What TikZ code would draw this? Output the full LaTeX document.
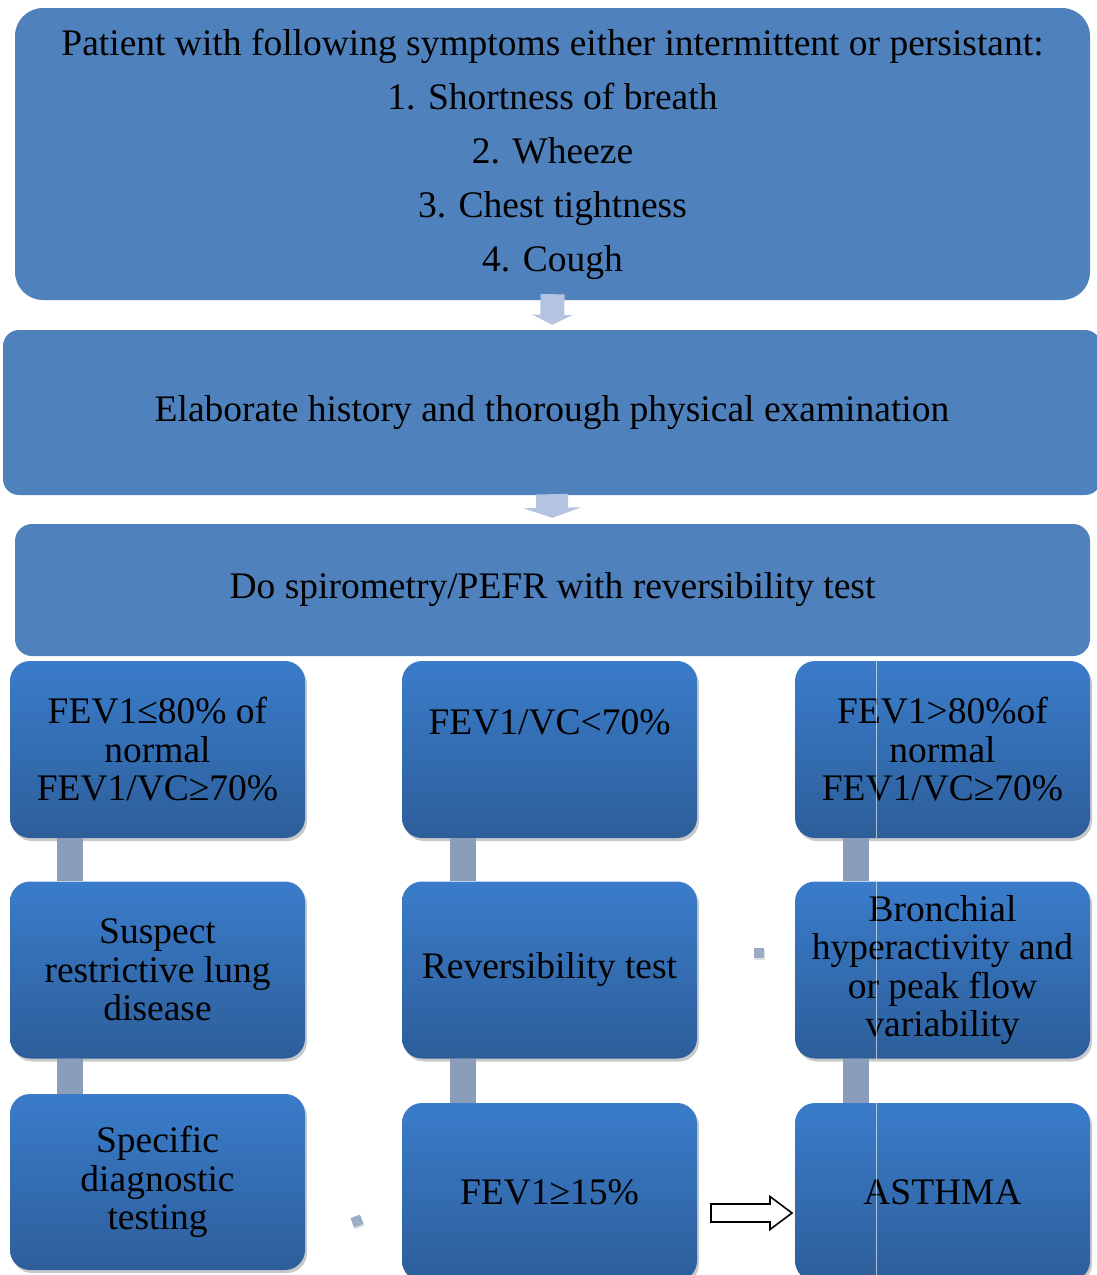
\documentclass[tikz,border=0pt]{standalone}
\usepackage{fontspec}
\setmainfont{Liberation Serif}
\usetikzlibrary{shadows,arrows.meta}
\definecolor{topblue}{RGB}{79,129,189}
\definecolor{gradtop}{RGB}{58,124,202}
\definecolor{gradbot}{RGB}{45,94,154}
\definecolor{barcol}{RGB}{138,157,186}
\definecolor{arrcol}{RGB}{180,196,224}
\begin{document}
\begin{tikzpicture}[x=1pt,y=-1pt,
  topbox/.style={fill=topblue, draw=none, align=center, inner sep=0pt,
    font=\fontsize{37.5}{54}\selectfont},
  rowbox/.style={rounded corners=20pt, top color=gradtop, bottom color=gradbot,
    draw=none, minimum width=295pt, minimum height=177pt, align=center, inner sep=0pt,
    font=\fontsize{37.5}{38.5}\selectfont,
    drop shadow={shadow xshift=2pt, shadow yshift=-3pt, opacity=0.3, fill=black!70}},
  rowtext/.style={align=center, inner sep=0pt, font=\fontsize{37.5}{38.5}\selectfont},
  bar/.style={line width=26pt, draw=barcol},
  hollow/.style={draw=black, line width=1.6pt, fill=white, line join=miter},
  sq/.style={minimum size=10pt, inner sep=0pt, fill=barcol!85,
    drop shadow={shadow xshift=1pt, shadow yshift=-2pt, opacity=0.25}},
  glint/.style={draw=white, opacity=0.6, line width=0.8pt}
]
\useasboundingbox (0,0) rectangle (1096,1275);

% top boxes
\node[topbox, rounded corners=28pt, minimum width=1075pt, minimum height=292pt] (b1) at (552.5,154)
  {Patient with following symptoms either intermittent or persistant:\\1. Shortness of breath\\2. Wheeze\\3. Chest tightness\\4. Cough};
\node[topbox, rounded corners=16pt, minimum width=1098pt, minimum height=165pt] (b2) at (552,412.5)
  {Elaborate history and thorough physical examination};
\node[topbox, rounded corners=17pt, minimum width=1075pt, minimum height=132pt] (b3) at (552.5,590)
  {Do spirometry/PEFR with reversibility test};

\draw[line width=24pt, draw=arrcol, -{Triangle[width=40pt,length=10pt]},
  shorten <=-6pt, shorten >=5pt] (b1.south) -- (b2.north);
\draw[line width=32pt, draw=arrcol, -{Triangle[width=58pt,length=10pt]},
  shorten <=-1pt, shorten >=6pt] (b2.south) -- (b3.north);

% column coordinates
\coordinate (c1) at (70,0);
\coordinate (c2) at (463,0);
\coordinate (c3) at (856,0);
\coordinate (vl) at (876,0);

% row 1
\node[rowbox] (l1) at (157.5,749.5) {FEV1≤80\% of\\normal\\FEV1/VC≥70\%};
\node[rowbox] (m1) at (549.5,749.5) {};
\node[rowtext] (m1t) at (549.5,722) {FEV1/VC<70\%};
\node[rowbox] (r1) at (942.5,749.5) {FEV1>80\%of\\normal\\FEV1/VC≥70\%};

% row 2
\node[rowbox] (l2) at (157.5,970) {Suspect\\restrictive lung\\disease};
\node[rowbox] (m2) at (549.5,970) {Reversibility test};
\node[rowbox] (r2) at (942.5,970) {Bronchial\\hyperactivity and\\or peak flow\\variability};

% row 3
\node[rowbox, minimum height=176pt] (l3) at (157.5,1182) {Specific\\diagnostic\\testing};
\node[rowbox, minimum height=178pt] (m3) at (549.5,1192) {FEV1≥15\%};
\node[rowbox, minimum height=178pt] (r3) at (942.5,1192) {ASTHMA};

% connectors
\draw[bar] (l1.south -| c1) -- (l2.north -| c1);
\draw[bar] (l2.south -| c1) -- (l3.north -| c1);
\draw[bar] (m1.south -| c2) -- (m2.north -| c2);
\draw[bar] (m2.south -| c2) -- (m3.north -| c2);
\draw[bar] (r1.south -| c3) -- (r2.north -| c3);
\draw[bar] (r2.south -| c3) -- (r3.north -| c3);

% faint vertical line over right column
\draw[glint] (r1.north -| vl) -- (r1.south -| vl);
\draw[glint] (r2.north -| vl) -- (r2.south -| vl);
\draw[glint] (r3.north -| vl) -- (r3.south -| vl);

% small squares
\node[sq] (s1) at (759,953) {};
\node[sq, rotate=20] (s2) at (357,1221) {};

% hollow arrow
\coordinate (ha) at (711,1213);
\draw[hollow] (ha) ++(0,-9) -- ++(59,0) -- ++(0,-7.5) -- ++(22,16.5) -- ++(-22,16.5)
  -- ++(0,-7.5) -- ++(-59,0) -- cycle;
\end{tikzpicture}
\end{document}
